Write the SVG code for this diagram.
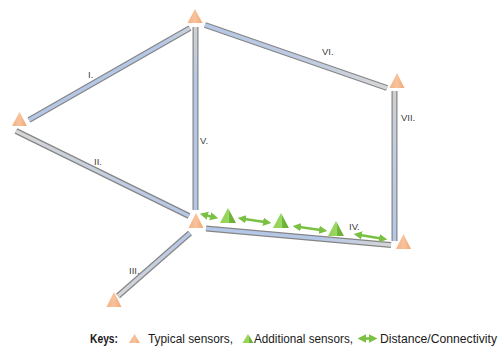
<svg xmlns="http://www.w3.org/2000/svg" width="503" height="348" viewBox="0 0 503 348">
<style>
.out{stroke:#858585;stroke-width:6;stroke-linecap:butt;fill:none}
.lbl{font-family:"Liberation Sans",Arial,sans-serif;font-size:9.5px;fill:#404040}
.key{font-family:"Liberation Sans",Arial,sans-serif;font-size:12.5px;fill:#1a1a1a}
.org{fill:url(#og)}
.grn{fill:url(#gg)}
.arr{stroke:#7ac143;stroke-width:2.6;fill:none;marker-start:url(#ah);marker-end:url(#ah)}
</style>
<defs>
<linearGradient id="og" x1="0" y1="0" x2="1" y2="0"><stop offset="0" stop-color="#f4b183"/><stop offset="0.5" stop-color="#f8c29c"/><stop offset="1" stop-color="#f0a872"/></linearGradient>
<linearGradient id="gg" x1="0" y1="0" x2="1" y2="0"><stop offset="0" stop-color="#8fd14f"/><stop offset="0.55" stop-color="#9ad860"/><stop offset="0.6" stop-color="#6fb33a"/><stop offset="1" stop-color="#6aae35"/></linearGradient>
<marker id="ah" viewBox="0 0 10 10" refX="6" refY="5" markerWidth="3.2" markerHeight="3.4" orient="auto-start-reverse" markerUnits="strokeWidth"><path d="M0,0 L10,5 L0,10 z" fill="#7ac143"/></marker>
<linearGradient id="b1" gradientUnits="userSpaceOnUse" x1="29" y1="120" x2="190" y2="28"><stop offset="0" stop-color="#b4c7e7"/><stop offset="0.8" stop-color="#b4c7e7"/><stop offset="1" stop-color="#c8d0dc"/></linearGradient>
<linearGradient id="b2" gradientUnits="userSpaceOnUse" x1="16" y1="130" x2="189" y2="216"><stop offset="0" stop-color="#d6d6d6"/><stop offset="0.5" stop-color="#c4cfe0"/><stop offset="1" stop-color="#b4c7e7"/></linearGradient>
<linearGradient id="b3" gradientUnits="userSpaceOnUse" x1="118" y1="296" x2="190" y2="233"><stop offset="0" stop-color="#d6d6d6"/><stop offset="1" stop-color="#b4c7e7"/></linearGradient>
<linearGradient id="b4" gradientUnits="userSpaceOnUse" x1="206" y1="229" x2="391" y2="245"><stop offset="0" stop-color="#b4c7e7"/><stop offset="0.6" stop-color="#b4c7e7"/><stop offset="1" stop-color="#d6d6d6"/></linearGradient>
<linearGradient id="b5" gradientUnits="userSpaceOnUse" x1="195" y1="27" x2="195" y2="210"><stop offset="0" stop-color="#d0d0d0"/><stop offset="0.3" stop-color="#b4c7e7"/><stop offset="1" stop-color="#b4c7e7"/></linearGradient>
<linearGradient id="b6" gradientUnits="userSpaceOnUse" x1="205" y1="25" x2="386" y2="88"><stop offset="0" stop-color="#b4c7e7"/><stop offset="0.6" stop-color="#c0cce0"/><stop offset="1" stop-color="#d6d6d6"/></linearGradient>
<linearGradient id="b7" gradientUnits="userSpaceOnUse" x1="394" y1="91" x2="394" y2="241"><stop offset="0" stop-color="#d0d0d0"/><stop offset="0.4" stop-color="#c0cce0"/><stop offset="1" stop-color="#b4c7e7"/></linearGradient>
</defs>

<g id="connectors">
<line class="out" x1="29" y1="120" x2="190" y2="28"/><line x1="29" y1="120" x2="190" y2="28" stroke="url(#b1)" stroke-width="3.6"/>
<line class="out" x1="16" y1="131" x2="189" y2="216"/><line x1="16" y1="131" x2="189" y2="216" stroke="url(#b2)" stroke-width="3.6"/>
<line class="out" x1="118" y1="296" x2="190" y2="233"/><line x1="118" y1="296" x2="190" y2="233" stroke="url(#b3)" stroke-width="3.6"/>
<line class="out" x1="206" y1="228.5" x2="391" y2="245"/><line x1="206" y1="228.5" x2="391" y2="245" stroke="url(#b4)" stroke-width="3.6"/>
<line class="out" x1="195.5" y1="27" x2="195.5" y2="210"/><line x1="195.5" y1="27" x2="195.5" y2="210" stroke="url(#b5)" stroke-width="3.6"/>
<line class="out" x1="205" y1="25" x2="387" y2="88"/><line x1="205" y1="25" x2="387" y2="88" stroke="url(#b6)" stroke-width="3.6"/>
<line class="out" x1="394.5" y1="91" x2="394.5" y2="241"/><line x1="394.5" y1="91" x2="394.5" y2="241" stroke="url(#b7)" stroke-width="3.6"/>
<line class="arr" x1="203" y1="214.5" x2="215" y2="217.5"/>
<line class="arr" x1="241" y1="218.5" x2="268" y2="222.5"/>
<line class="arr" x1="296" y1="226.5" x2="324" y2="230.5"/>
<line class="arr" x1="357" y1="234.5" x2="384" y2="239"/>
</g>

<g id="labels">
<text class="lbl" x="88" y="78">I.</text>
<text class="lbl" x="94" y="165">II.</text>
<text class="lbl" x="129" y="274">III.</text>
<text class="lbl" x="349" y="230">IV.</text>
<text class="lbl" x="200" y="144">V.</text>
<text class="lbl" x="322" y="55">VI.</text>
<text class="lbl" x="401" y="121">VII.</text>
</g>

<g id="sensor-top"><polygon class="org" points="195,9 202.5,23 187.5,23"/></g>
<g id="sensor-left"><polygon class="org" points="19.5,112 27,126 12,126"/></g>
<g id="sensor-right-top"><polygon class="org" points="397,73 404.5,88 389.5,88"/></g>
<g id="sensor-center"><polygon class="org" points="196,213 203.5,228 188.5,228"/></g>
<g id="sensor-bottom-left"><polygon class="org" points="114,292 121.5,307 106.5,307"/></g>
<g id="sensor-bottom-right"><polygon class="org" points="403.5,234 411,249 396,249"/></g>
<g id="add-sensor-1"><polygon class="grn" points="228,208 236,223 220,223"/></g>
<g id="add-sensor-2"><polygon class="grn" points="281,213 289,228 273,228"/></g>
<g id="add-sensor-3"><polygon class="grn" points="336,221 344,236 328,236"/></g>

<g id="legend">
<text class="key" x="90" y="343" font-weight="bold" textLength="28" lengthAdjust="spacingAndGlyphs">Keys:</text>
<polygon class="org" points="134.5,334 140,343 129,343"/>
<text class="key" x="148" y="343" textLength="85" lengthAdjust="spacingAndGlyphs">Typical sensors,</text>
<polygon class="grn" points="248,334 253.5,343 242.5,343"/>
<text class="key" x="254" y="343" textLength="99" lengthAdjust="spacingAndGlyphs">Additional sensors,</text>
<line class="arr" x1="361" y1="338.5" x2="374" y2="338.5"/>
<text class="key" x="380" y="343" textLength="117" lengthAdjust="spacingAndGlyphs">Distance/Connectivity</text>
</g>
</svg>
